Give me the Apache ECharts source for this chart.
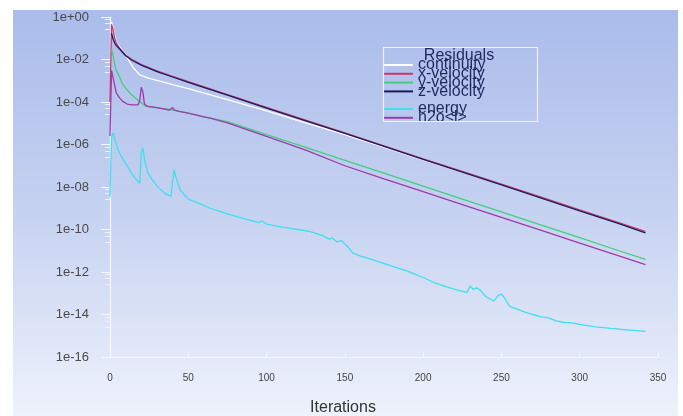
<!DOCTYPE html>
<html>
<head>
<meta charset="utf-8">
<style>
html,body{margin:0;padding:0;background:#ffffff;}
#chart{width:683px;height:416px;}
</style>
<script src="https://cdn.jsdelivr.net/npm/echarts@6/dist/echarts.min.js"></script>
</head>
<body>
<div id="chart"></div>
<script>
// [iteration, residual]
const continuity = [[1,0.6],[2,0.3],[3,0.13],[4,0.07],[6,0.04],[8,0.026],[10,0.017],[12,0.009],[15,0.004],[19,0.0019],[25,0.0013],[32,9.5e-4],[40,6.5e-4],[50,4.3e-4],[75,1.3e-4],[100,3.8e-5],[125,1.05e-5],[150,2.9e-6],[175,7.5e-7],[200,1.9e-7],[225,5e-8],[250,1.3e-8],[275,3.3e-9],[300,8.2e-10],[325,2.1e-10],[342,8.5e-11]];
const xVelocity = [[0,1e-4],[1,0.45],[2,0.25],[3,0.1],[4,0.06],[6,0.035],[8,0.024],[10,0.016],[14,0.01],[20,0.0058],[30,0.0029],[40,0.0016],[50,9e-4],[75,2.2e-4],[100,5.6e-5],[125,1.4e-5],[150,3.5e-6],[175,8.7e-7],[200,2.1e-7],[225,5.4e-8],[250,1.35e-8],[275,3.4e-9],[300,8.3e-10],[325,2.1e-10],[342,8.1e-11]];
const yVelocity = [[1,0.03],[2,0.016],[3,0.006],[4,0.003],[6,0.0016],[8,7e-4],[10,4.5e-4],[13,2.5e-4],[16,1.6e-4],[19,1.05e-4],[23,6.2e-5],[28,5.6e-5],[32,5.1e-5],[40,4.1e-5],[50,3e-5],[60,2e-5],[75,1.2e-5],[100,2.95e-6],[125,7.3e-7],[150,1.8e-7],[175,4.5e-8],[200,1.1e-8],[225,2.7e-9],[250,6.7e-10],[275,1.65e-10],[300,4.1e-11],[325,1e-11],[342,3.9e-12]];
const zVelocity = [[1,0.17],[2,0.09],[3,0.06],[4,0.045],[6,0.032],[8,0.022],[10,0.015],[14,0.0092],[20,0.0054],[30,0.0027],[40,0.0015],[50,8.4e-4],[75,2.1e-4],[100,5.2e-5],[125,1.3e-5],[150,3.3e-6],[175,8.2e-7],[200,2e-7],[225,5e-8],[250,1.25e-8],[275,3.1e-9],[300,7.6e-10],[325,1.9e-10],[342,7e-11]];
const energy = [[0,3.6e-9],[1,2.4e-6],[2,3.5e-6],[3,1.8e-6],[5,6e-7],[7,3e-7],[10,1.3e-7],[13,5.5e-8],[16,2.6e-8],[19,1.5e-8],[20,4e-7],[21,7e-7],[22,2e-7],[24,5e-8],[27,2.2e-8],[30,1.1e-8],[35,5e-9],[39,3.6e-9],[40,2e-8],[41,6.5e-8],[42,3e-8],[45,7e-9],[50,2.7e-9],[57,1.7e-9],[64,1e-9],[75,5.5e-10],[85,3.3e-10],[95,2.1e-10],[97,2.5e-10],[100,1.8e-10],[110,1.3e-10],[120,1e-10],[128,8e-11],[135,5.5e-11],[140,3.5e-11],[142,4e-11],[145,2.6e-11],[148,3e-11],[152,1.5e-11],[155,8e-12],[160,5.6e-12],[170,3.3e-12],[180,1.9e-12],[190,1.1e-12],[200,5.5e-13],[207,3.2e-13],[215,2e-13],[222,1.4e-13],[228,1.1e-13],[230,2.2e-13],[232,1.5e-13],[234,1.8e-13],[236,1.5e-13],[240,7e-14],[245,4.3e-14],[248,8e-14],[250,9e-14],[252,6e-14],[255,2.5e-14],[260,1.8e-14],[265,1.3e-14],[270,1e-14],[275,8e-15],[280,7e-15],[285,5e-15],[290,4.2e-15],[295,4e-15],[300,3.4e-15],[310,2.6e-15],[320,2.2e-15],[330,1.9e-15],[342,1.6e-15]];
const h2oL = [[0,2.5e-6],[1,3e-3],[2,2.6e-3],[3,6e-4],[4,2.7e-4],[6,1.6e-4],[8,1.1e-4],[11,8e-5],[14,7.4e-5],[18,7.4e-5],[19,1.2e-4],[20,5e-4],[21,3e-4],[22,8e-5],[24,6.2e-5],[30,5.4e-5],[38,4.2e-5],[40,5.5e-5],[41,4.3e-5],[44,3.6e-5],[50,3e-5],[60,2e-5],[64,1.75e-5],[75,1.05e-5],[100,2.4e-6],[125,5.4e-7],[150,1e-7],[175,2.4e-8],[200,6e-9],[225,1.5e-9],[250,3.7e-10],[275,9.3e-11],[300,2.3e-11],[325,5.8e-12],[342,2.2e-12]];

const seriesNames = ['continuity','x-velocity','y-velocity','z-velocity','energy','h2o<l>'];
const seriesData = [continuity, xVelocity, yVelocity, zVelocity, energy, h2oL];
const seriesColors = ['#ffffff','#c8386e','#3fd07e','#1b1b5c','#3fe0ea','#a03aa8'];
const xTicks = {min:0, max:350, interval:50};
const yTicks = {min:1e-16, max:1, interval:2};

const FONT = '"Liberation Sans", Arial, sans-serif';
const chart = echarts.init(document.getElementById('chart'));

function fmtExp(v){
  const e = Math.round(Math.log10(v));
  const s = e >= 0 ? '+' : '-';
  const a = Math.abs(e);
  return '1e' + s + (a < 10 ? '0' + a : '' + a);
}

chart.setOption({
  backgroundColor: '#ffffff',
  animation: false,
  graphic: [
    {type:'rect', z:-10, silent:true, shape:{x:13,y:10,width:665,height:406},
     style:{fill:new echarts.graphic.LinearGradient(0,0,0,1,[
       {offset:0,color:'#aabcea'},{offset:0.5,color:'#c6d2f1'},{offset:1,color:'#eef2fb'}])}},
    {type:'rect', z:5, silent:true, shape:{x:383.5,y:47.5,width:154,height:74},
     style:{fill:'none', stroke:'#eef3fc', lineWidth:1.2}}
  ],
  title: [
    {text:'Residuals', left:459, top:48, textAlign:'center', padding:0,
     textStyle:{fontFamily:FONT, fontSize:16, fontWeight:'normal', color:'#1e2a5e', lineHeight:16}},
    {text:'Iterations', left:343, top:400, textAlign:'center', padding:0,
     textStyle:{fontFamily:FONT, fontSize:16, fontWeight:'normal', color:'#333333', lineHeight:16}}
  ],
  legend: [
    {data: seriesNames.slice(0,4), orient:'vertical', left:383, top:57, padding:0,
     itemGap:-7.2, itemWidth:30, itemHeight:2, icon:'rect', selectedMode:false,
     textStyle:{fontFamily:FONT, fontSize:16, color:'#1e2a5e'}},
    {data: seriesNames.slice(4), orient:'vertical', left:383, top:101, padding:0,
     itemGap:-7.2, itemWidth:30, itemHeight:2, icon:'rect', selectedMode:false,
     textStyle:{fontFamily:FONT, fontSize:16, color:'#1e2a5e'}}
  ],
  grid: {left:110, top:17, right:25, bottom:59, containLabel:false},
  xAxis: {
    type:'value', min:xTicks.min, max:xTicks.max, interval:xTicks.interval,
    axisLine:{show:true, lineStyle:{color:'#f4f7fd', width:1.2}},
    axisTick:{show:true, inside:true, length:4, lineStyle:{color:'#f4f7fd'}},
    splitLine:{show:false},
    axisLabel:{fontFamily:FONT, fontSize:10, color:'#444444', margin:16}
  },
  yAxis: {
    type:'log', logBase:10, min:yTicks.min, max:yTicks.max, interval:yTicks.interval,
    axisLine:{show:true, onZero:false, lineStyle:{color:'#f4f7fd', width:1.2}},
    axisTick:{show:true, length:9, lineStyle:{color:'#f4f7fd'}},
    minorTick:{show:true, splitNumber:4, length:5, lineStyle:{color:'#eef2fb'}},
    splitLine:{show:false},
    axisLabel:{fontFamily:FONT, fontSize:13, color:'#4a4a4a', margin:21, formatter:fmtExp}
  },
  series: seriesNames.map((n,i)=>({
    name:n, type:'line', data:seriesData[i], showSymbol:false, symbol:'none',
    color:seriesColors[i], lineStyle:{width:1.3, color:seriesColors[i]},
    z: 2 + i, silent:true
  }))
});
</script>
</body>
</html>
